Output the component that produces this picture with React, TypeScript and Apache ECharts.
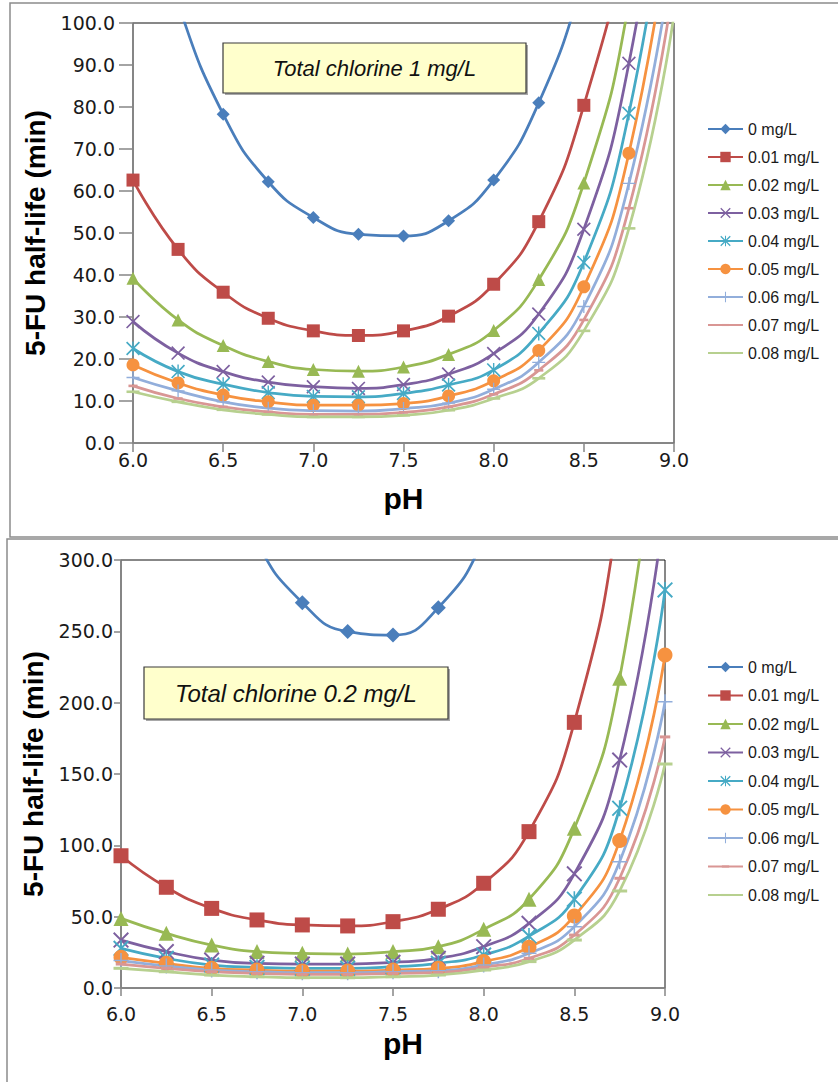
import React, { useEffect, useRef } from 'react';
import * as echarts from 'echarts';

// pH values (x) shared by every series
const PH = [6.0, 6.25, 6.5, 6.75, 7.0, 7.25, 7.5, 7.75, 8.0, 8.25, 8.5, 8.75, 9.0];

const SERIES_NAMES = ['0 mg/L', '0.01 mg/L', '0.02 mg/L', '0.03 mg/L', '0.04 mg/L', '0.05 mg/L', '0.06 mg/L', '0.07 mg/L', '0.08 mg/L'];

// Top chart: Total chlorine 1 mg/L (half-life, min)
const TOP_0 = [140, 104.6, 78.3, 62.2, 53.7, 49.7, 49.3, 52.9, 62.6, 81.0, 111, 152, 215];
const TOP_001 = [62.6, 46.1, 35.9, 29.7, 26.7, 25.6, 26.7, 30.2, 37.8, 52.7, 80.4, 126, 215];
const TOP_002 = [39.2, 29.3, 23.2, 19.4, 17.5, 17.1, 18.1, 21.1, 26.8, 38.9, 61.9, 105, 185];
const TOP_003 = [28.9, 21.4, 17.0, 14.5, 13.4, 13.0, 13.9, 16.4, 21.3, 30.7, 50.9, 90.4, 160];
const TOP_004 = [22.5, 17.0, 14.0, 12.0, 11.1, 11.0, 11.8, 13.8, 17.4, 26.1, 43.0, 78.5, 144];
const TOP_005 = [18.6, 14.3, 11.4, 9.8, 9.0, 9.0, 9.4, 11.2, 14.8, 22.0, 37.2, 69.0, 131];
const TOP_006 = [15.6, 12.4, 9.8, 8.3, 7.7, 7.6, 8.2, 9.5, 12.8, 19.2, 32.5, 61.8, 118];
const TOP_007 = [13.6, 10.6, 8.6, 7.4, 6.8, 6.8, 7.3, 8.6, 11.6, 17.3, 29.3, 55.9, 110];
const TOP_008 = [12.2, 9.8, 7.9, 6.8, 6.2, 6.2, 6.6, 7.8, 10.6, 15.4, 26.7, 51.1, 102];

// Bottom chart: Total chlorine 0.2 mg/L (half-life, min)
const BOT_0 = [700, 526, 394, 313, 270.1, 249.8, 247.4, 266.6, 315, 406, 556, 800, 1160];
const BOT_001 = [92.7, 70.6, 55.8, 47.7, 44.2, 43.5, 46.5, 55.2, 73.4, 109.6, 186.2, 341, 620];
const BOT_002 = [48.8, 38.3, 30.1, 25.5, 24.3, 23.8, 25.5, 29.0, 41.1, 62.2, 111.9, 217.1, 450];
const BOT_003 = [33.6, 25.5, 19.6, 17.3, 16.8, 16.8, 18.0, 20.8, 29.0, 45.3, 80.0, 159.8, 340];
const BOT_004 = [27.8, 20.8, 16.1, 14.5, 13.8, 13.8, 14.9, 17.3, 23.1, 36.4, 62.2, 126, 279];
const BOT_005 = [21.5, 17.3, 13.8, 12.6, 11.9, 11.9, 12.6, 13.8, 18.5, 28.5, 50.5, 103.3, 233.4];
const BOT_006 = [19.2, 15.4, 12.6, 11.4, 10.7, 10.7, 11.4, 12.1, 16.1, 24.3, 43.0, 88.5, 200.7];
const BOT_007 = [16.8, 13.8, 11.4, 10.3, 9.6, 9.6, 10.3, 10.8, 14.5, 20.8, 37.1, 76.9, 176];
const BOT_008 = [13.8, 11.4, 9.1, 7.9, 7.2, 7.2, 7.9, 9.1, 12.6, 18.5, 33.6, 68.0, 157];

const TOP_VALUES = [TOP_0, TOP_001, TOP_002, TOP_003, TOP_004, TOP_005, TOP_006, TOP_007, TOP_008];
const BOT_VALUES = [BOT_0, BOT_001, BOT_002, BOT_003, BOT_004, BOT_005, BOT_006, BOT_007, BOT_008];

const TOP_NOTE = 'Total chlorine 1 mg/L';
const BOT_NOTE = 'Total chlorine 0.2 mg/L';
const X_NAME = 'pH';
const Y_NAME = '5-FU half-life (min)';

const COLORS = ['#4A7EBB', '#BE4B48', '#98B954', '#7D60A0', '#46AAC5', '#F69240', '#92AEDB', '#D99694', '#B7D08F'];

const SYM_X = 'path://M0,1.7L1.7,0L20,18.3L18.3,20Z M18.3,0L20,1.7L1.7,20L0,18.3Z';
const SYM_STAR = 'path://M0,1.7L1.7,0L20,18.3L18.3,20Z M18.3,0L20,1.7L1.7,20L0,18.3Z M9,0L11,0L11,20L9,20Z';
const SYM_PLUS = 'path://M9,0L11,0L11,20L9,20Z M0,9L20,9L20,11L0,11Z';
const SYM_SDASH = 'path://M0,0M20,20M3,8L17,8L17,12L3,12Z';
const SYM_LDASH = 'path://M0,0M20,20M0,8L20,8L20,12L0,12Z';
const SYMBOLS = ['diamond', 'rect', 'triangle', SYM_X, SYM_STAR, 'circle', SYM_PLUS, SYM_SDASH, SYM_LDASH];

const fmt = (v: number) => v.toFixed(1);
const AXIS_GRAY = '#868686';
const LABEL_FONT = 'DejaVu Sans';

function makeSeries(values: number[][], axisIndex: number, size: number) {
  return values.map((vals, i) => ({
    type: 'line',
    name: SERIES_NAMES[i],
    xAxisIndex: axisIndex,
    yAxisIndex: axisIndex,
    data: PH.map((x, j) => [x, vals[j]]),
    smooth: 0.5,
    symbol: SYMBOLS[i],
    symbolSize: i === 3 || i === 4 ? size + 1 : size,
    showAllSymbol: true,
    clip: true,
    lineStyle: { color: COLORS[i], width: 2.75 },
    itemStyle: { color: COLORS[i], borderWidth: 0 },
    emphasis: { disabled: true },
  }));
}

function xAxis(gridIndex: number, tickLen: number, margin: number, namePad: number[]) {
  return {
    type: 'value', gridIndex, min: 6, max: 9, interval: 0.5,
    axisLine: { show: true, onZero: false, lineStyle: { color: AXIS_GRAY, width: 1.5 } },
    axisTick: { show: true, length: tickLen, lineStyle: { color: AXIS_GRAY, width: 1.5 } },
    axisLabel: { formatter: fmt, fontFamily: LABEL_FONT, fontSize: 19, color: '#1a1a1a', margin },
    splitLine: { show: false },
    name: X_NAME, nameLocation: 'middle', nameGap: 40,
    nameTextStyle: { fontFamily: 'Liberation Sans', fontWeight: 'bold', fontSize: 30, color: '#000', padding: namePad },
  };
}

function yAxis(gridIndex: number, max: number, interval: number, tickLen: number, margin: number, nameGap: number) {
  return {
    type: 'value', gridIndex, min: 0, max, interval,
    axisLine: { show: true, onZero: false, lineStyle: { color: AXIS_GRAY, width: 1.5 } },
    axisTick: { show: true, length: tickLen, lineStyle: { color: AXIS_GRAY, width: 1.5 } },
    axisLabel: { formatter: fmt, fontFamily: LABEL_FONT, fontSize: 19, color: '#1a1a1a', margin },
    splitLine: { show: false },
    name: Y_NAME, nameLocation: 'middle', nameRotate: 90, nameGap,
    nameTextStyle: { fontFamily: 'Liberation Sans', fontWeight: 'bold', fontSize: 28, color: '#000' },
  };
}

function legend(top: number, gap: number) {
  return {
    orient: 'vertical', left: 702, top, itemWidth: 35, itemHeight: 13, itemGap: gap,
    data: SERIES_NAMES,
    textStyle: { fontFamily: 'Liberation Sans', fontSize: 16, color: '#1a1a1a' },
    selectedMode: false,
  };
}

function noteBox(x: number, y: number, w: number, h: number, text: string, fontSize: number) {
  return {
    type: 'group', z: 100,
    children: [
      { type: 'rect', shape: { x: x + 2, y: y + 2, width: w, height: h }, style: { fill: '#a8a8a8' }, z: 100 },
      { type: 'rect', shape: { x, y, width: w, height: h }, style: { fill: '#FFFFCC', stroke: '#3a3a3a', lineWidth: 1.2 }, z: 101 },
      {
        type: 'text', z: 102,
        style: {
          text, x: x + w / 2, y: y + h / 2, textAlign: 'center', textVerticalAlign: 'middle',
          font: `italic ${fontSize}px "Liberation Sans"`, fill: '#111',
        },
      },
    ],
  };
}

export default function App() {
  const ref = useRef<HTMLDivElement>(null);
  useEffect(() => {
    document.body.style.margin = '0';
    const chart = echarts.init(ref.current!, undefined, { renderer: 'svg' });
    chart.setOption({
      animation: false,
      backgroundColor: '#ffffff',
      grid: [
        { left: 133, top: 23, width: 541, height: 420, show: true, borderColor: '#111', borderWidth: 1 },
        { left: 121, top: 560, width: 544, height: 428, show: true, borderColor: '#111', borderWidth: 1 },
      ],
      xAxis: [xAxis(0, 9, 7, [0, 0, 0, 0]), xAxis(1, 8, 16, [0, 0, 0, 20])],
      yAxis: [yAxis(0, 100, 10, 14, 18, 84), yAxis(1, 300, 50, 7, 8, 72)],
      legend: [legend(116, 12), legend(654, 12.5)],
      series: [...makeSeries(TOP_VALUES, 0, 13), ...makeSeries(BOT_VALUES, 1, 15)],
      graphic: [
        { type: 'rect', z: -10, shape: { x: 10, y: 3, width: 900, height: 534 }, style: { fill: 'none', stroke: '#8c8c8c', lineWidth: 1.5 } },
        { type: 'rect', z: -10, shape: { x: 7, y: 539, width: 900, height: 600 }, style: { fill: 'none', stroke: '#8c8c8c', lineWidth: 1.5 } },
        noteBox(223, 43, 303, 50, TOP_NOTE, 22),
        noteBox(144, 667, 304, 52, BOT_NOTE, 24),
      ],
    });
    return () => chart.dispose();
  }, []);
  return <div ref={ref} style={{ width: 838, height: 1082 }} />;
}
